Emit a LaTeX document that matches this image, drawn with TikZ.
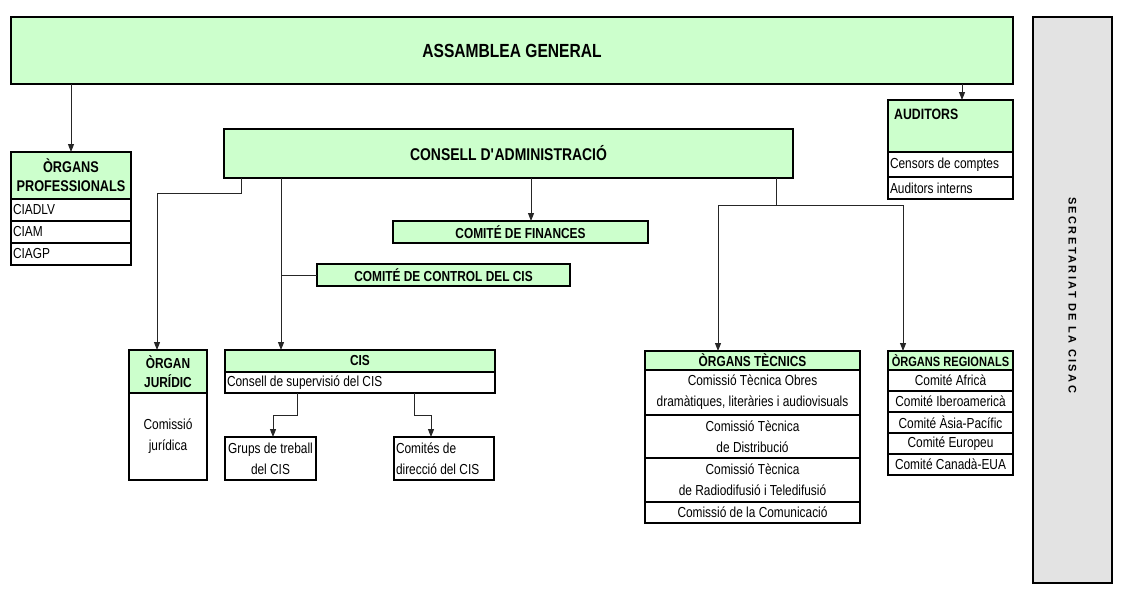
\documentclass[tikz,border=0pt]{standalone}
\usepackage{fontspec}
\setmainfont[FakeStretch=0.82]{Liberation Sans}
\newfontfamily\secfont[LetterSpace=22]{Liberation Sans}
\usetikzlibrary{arrows.meta}
\definecolor{lgreen}{HTML}{CCFFCC}
\definecolor{sgray}{HTML}{E3E3E3}
\begin{document}
\begin{tikzpicture}[x=1pt,y=-1pt,
  cell/.style={draw=black, line width=2pt, inner sep=0pt, outer sep=0pt, anchor=north west, font=\fontsize{14.5}{21}\selectfont, align=center},
  hcell/.style={cell, fill=lgreen, font=\bfseries\fontsize{14.5}{19}\selectfont},
  wcell/.style={cell, fill=white},
  lcell/.style={wcell, inner xsep=2pt, align=flush left, text width=#1},
  sz/.style n args={2}{minimum width=#1, minimum height=#2},
  conn/.style={line width=1pt, black!85},
  arr/.style={conn, -{Triangle[length=8pt,width=6pt]}},
]
\useasboundingbox (0,0) rectangle (1123,600);

% top level
\node[hcell, sz={1002pt}{67pt}, font=\bfseries\fontsize{19}{22}\selectfont] (ag) at (11,17) {ASSAMBLEA GENERAL};
\node[cell, fill=sgray, sz={79pt}{566pt}] (sec) at (1033,17) {};
\node[font=\secfont\bfseries\fontsize{11}{13}\selectfont, rotate=-90] (sect) at ([yshift=5pt]sec.center) {SECRETARIAT DE LA CISAC};

% organs professionals
\node[hcell, sz={120pt}{47pt}, font=\bfseries\fontsize{15.5}{19}\selectfont] (oph) at (11,152) {ÒRGANS\\PROFESSIONALS};
\node[lcell=116pt, minimum height=22pt] (op1) at (11,199) {CIADLV};
\node[lcell=116pt, minimum height=22pt] (op2) at (11,221) {CIAM};
\node[lcell=116pt, minimum height=22pt] (op3) at (11,243) {CIAGP};

% consell
\node[hcell, sz={569pt}{49pt}, font=\bfseries\fontsize{17}{20}\selectfont] (ca) at (224,129) {CONSELL D\textquotesingle ADMINISTRACIÓ};

% auditors
\node[hcell, sz={125pt}{52pt}] (audh) at (888,100) {};
\node[font=\bfseries\fontsize{15}{19}\selectfont, anchor=west, inner sep=0pt] (audt) at ([xshift=6pt,yshift=-14pt]audh.north west) {AUDITORS};
\node[lcell=121pt, minimum height=25pt] (aud1) at (888,152) {Censors de comptes};
\node[lcell=121pt, minimum height=22pt] (aud2) at (888,177) {Auditors interns};

% comites
\node[hcell, sz={255pt}{22pt}] (fin) at (393,221) {COMITÉ DE FINANCES};
\node[hcell, sz={253pt}{22pt}] (ctl) at (317,264) {COMITÉ DE CONTROL DEL CIS};

% organ juridic
\node[hcell, sz={78pt}{43pt}] (ojh) at (129,350) {ÒRGAN\\JURÍDIC};
\node[wcell, sz={78pt}{87pt}] (ojb) at (129,393) {Comissió\\jurídica};

% CIS
\node[hcell, sz={270pt}{22pt}] (cish) at (225,350) {CIS};
\node[lcell=266pt, minimum height=21pt] (cisr) at (225,372) {Consell de supervisió del CIS};
\node[wcell, sz={91pt}{43pt}] (gt) at (225,437) {Grups de treball\\del CIS};
\node[lcell=96pt, minimum height=43pt] (cd) at (394,437) {Comités de\\direcció del CIS};

% organs tecnics
\node[hcell, sz={215pt}{19pt}] (oth) at (645,351) {ÒRGANS TÈCNICS};
\node[wcell, sz={215pt}{45pt}] (ot1) at (645,370) {Comissió Tècnica Obres\\dramàtiques, literàries i audiovisuals};
\node[wcell, sz={215pt}{43pt}] (ot2) at (645,415) {Comissió Tècnica\\de Distribució};
\node[wcell, sz={215pt}{44pt}] (ot3) at (645,458) {Comissió Tècnica\\de Radiodifusió i Teledifusió};
\node[wcell, sz={215pt}{21pt}] (ot4) at (645,502) {Comissió de la Comunicació};

% organs regionals
\node[hcell, sz={125pt}{19pt}, font=\bfseries\fontsize{13.5}{16}\selectfont] (orh) at (888,351) {ÒRGANS REGIONALS};
\node[wcell, sz={125pt}{21pt}] (or1) at (888,370) {Comité Africà};
\node[wcell, sz={125pt}{21pt}] (or2) at (888,391) {Comité Iberoamericà};
\node[wcell, sz={125pt}{21pt}] (or3) at (888,412) {Comité Àsia-Pacífic};
\node[wcell, sz={125pt}{21pt}] (or4) at (888,433) {Comité Europeu};
\node[wcell, sz={125pt}{21pt}] (or5) at (888,454) {Comité Canadà-EUA};

% connector coordinates
\coordinate (audin) at (962,100);
\coordinate (c1) at (241,193);
\coordinate (ojin) at (157,350);
\coordinate (cisin) at (281,350);
\coordinate (finin) at (531,221);
\coordinate (c2) at (776,205);
\coordinate (otin) at (718,351);
\coordinate (orin) at (903,351);
\coordinate (c3) at (297,415);
\coordinate (gtin) at (273,437);
\coordinate (c4) at (414,415);
\coordinate (cdin) at (431,437);

% connectors
\draw[arr] (ag.south -| oph.north) -- (oph.north);
\draw[arr] (ag.south -| audin) -- (audin);
\draw[arr] (ca.south -| c1) -- (c1) -| (ojin);
\draw[arr] (ca.south -| cisin) -- (cisin);
\draw[conn] (ctl.west -| cisin) -- (ctl.west);
\draw[arr] (ca.south -| finin) -- (finin);
\draw[conn] (ca.south -| c2) -- (c2);
\draw[arr] (c2) -| (otin);
\draw[arr] (c2) -| (orin);
\draw[arr] (cisr.south -| c3) -- (c3) -| (gtin);
\draw[arr] (cisr.south -| c4) -- (c4) -| (cdin);
\end{tikzpicture}
\end{document}
